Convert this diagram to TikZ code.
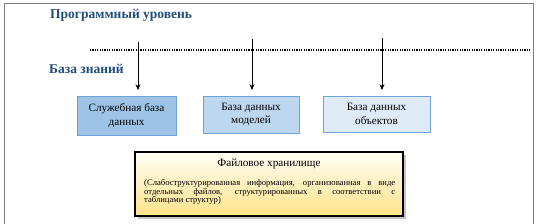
\documentclass[tikz,border=0pt]{standalone}
\usepackage{fontspec}
\setmainfont{Liberation Serif}
\newfontfamily\tms{Liberation Serif}
\usetikzlibrary{arrows.meta,shadows}
\definecolor{titleblue}{HTML}{1F4E79}
\definecolor{frameg}{HTML}{7F7F7F}
\definecolor{bA}{HTML}{9DC3E6}
\definecolor{bB}{HTML}{BDD7EE}
\definecolor{bC}{HTML}{DEEBF7}
\definecolor{bE}{HTML}{6FA3D8}
\definecolor{yTop}{HTML}{FFFEF5}
\definecolor{yBot}{HTML}{FFE28A}
\tikzset{
  dbbox/.style={draw=bE, line width=0.8pt, align=center, inner sep=0pt,
    font=\tms\fontsize{11.2}{13.5}\selectfont},
  arr/.style={-{Stealth[length=6pt,width=5pt]}, line width=0.8pt},
  hdr/.style={font=\tms\bfseries\fontsize{13.5}{15}\selectfont, text=titleblue, anchor=base west, inner sep=0pt},
}
\begin{document}
\begin{tikzpicture}[x=1pt,y=-1pt]
\useasboundingbox (0,0) rectangle (537,224);
% frame
\draw[frameg, line width=1.6pt] (4.5,224) -- (4.5,3.5) -- (533.5,3.5) -- (533.5,224);
% headings
\node[hdr] (t1) at (50,19) {Программный уровень};
\node[hdr] (t2) at (49,74) {База знаний};
% dotted line
\coordinate (dl) at (90,50);
\coordinate (dr) at (530,50);
\draw[line width=1.1pt, dash pattern=on 1.2pt off 1.2pt] (dl) -- (dr);
% boxes
\node[dbbox, fill=bA, minimum width=99pt, minimum height=39pt] (b1) at (126.5,115.5) {Служебная база\\данных};
\node[dbbox, fill=bB, minimum width=96pt, minimum height=37pt] (b2) at (251,114.5) {База данных\\моделей};
\node[dbbox, fill=bC, minimum width=107pt, minimum height=36pt] (b3) at (376.5,114) {База данных\\объектов};
% arrows
\coordinate (a1) at (138,42);
\coordinate (a2) at (252,39);
\coordinate (a3) at (382,38);
\draw[arr, shorten >=5.5pt] (a1) -- (a1 |- b1.north);
\draw[arr, shorten >=5.5pt] (a2) -- (a2 |- b2.north);
\draw[arr, shorten >=5.5pt] (a3) -- (a3 |- b3.north);
% file storage
\fill[gray!45] (138,155) rectangle (406,219);
\node[draw=black, line width=1.3pt, top color=yTop, bottom color=yBot, minimum width=268pt, minimum height=64pt, inner sep=0pt] (fs) at (269,184) {};
\node[font=\tms\fontsize{11.2}{12}\selectfont, anchor=base] (fst) at (269,166) {Файловое хранилище};
\node[anchor=north west, inner sep=0pt, text width=251pt, align=justify, font=\tms\fontsize{8.6}{8.3}\selectfont] (fsp) at (144,179.5) {(Слабоструктурированная информация, организованная в~виде\linebreak отдельных файлов, структурированных в соответствии~с\linebreak таблицами структур)};
\end{tikzpicture}
\end{document}
